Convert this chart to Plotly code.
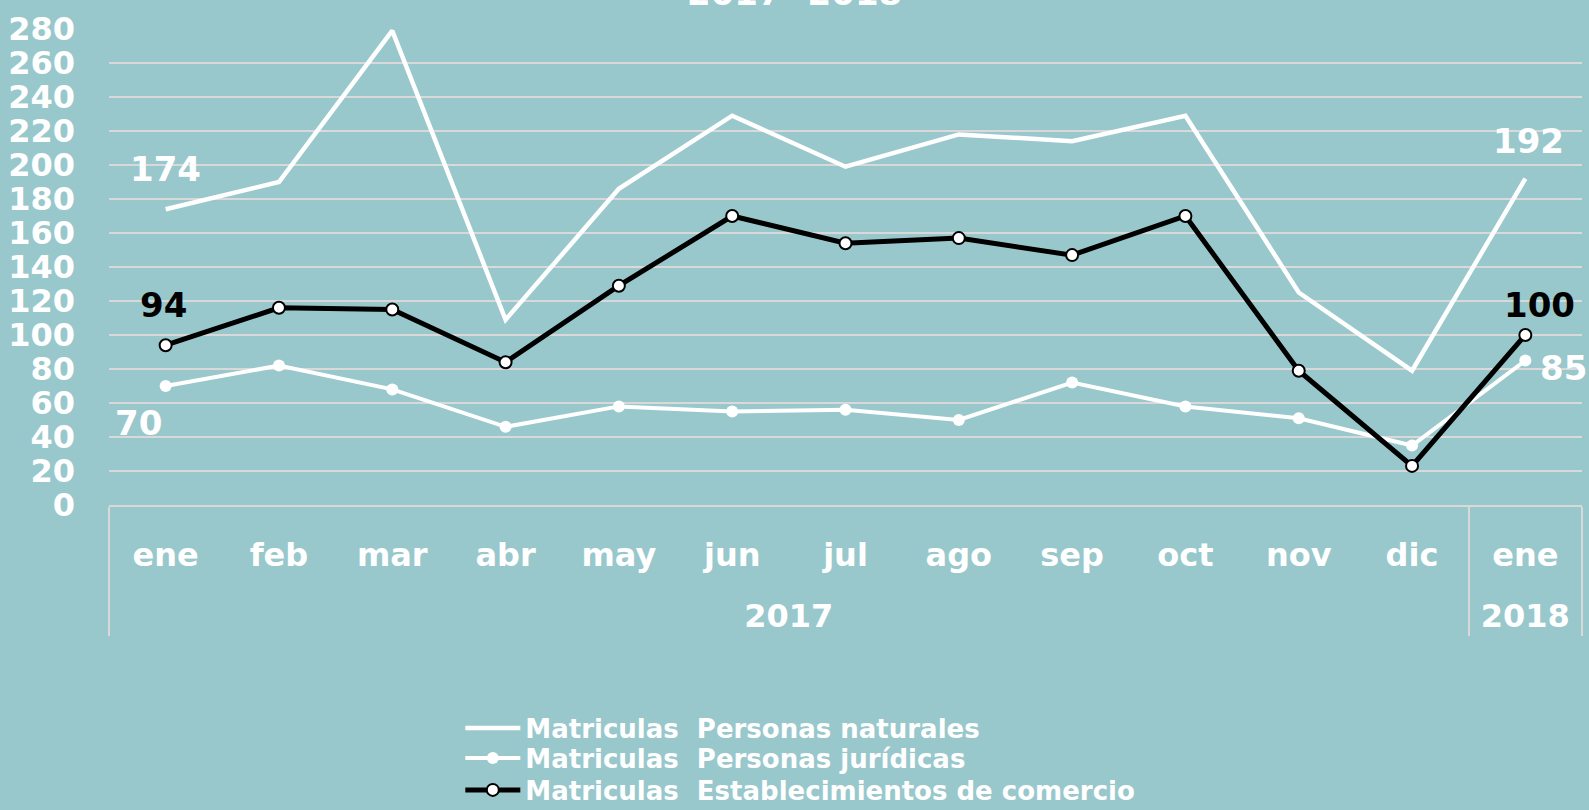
import plotly.graph_objects as go

months = ["ene", "feb", "mar", "abr", "may", "jun", "jul", "ago", "sep", "oct", "nov", "dic", "ene"]
years = ["2017"] * 12 + ["2018"]

naturales = [174, 190, 279, 109, 186, 229, 199, 218, 214, 229, 125, 79, 192]
juridicas = [70, 82, 68, 46, 58, 55, 56, 50, 72, 58, 51, 35, 85]
establecimientos = [94, 116, 115, 84, 129, 170, 154, 157, 147, 170, 79, 23, 100]

series_names = [
    "Matriculas  Personas naturales",
    "Matriculas  Personas jurídicas",
    "Matriculas  Establecimientos de comercio",
]
title_text = "2017- 2018"

BG = "#98C8CC"
GRID = "#D9D9D9"
FONT = "'DejaVu Sans', Lato, sans-serif"

# month labels get an empty second line so the year row sits lower, as in the original
x = [years, [m + "<br>&nbsp;" for m in months]]

fig = go.Figure()
fig.add_trace(go.Scatter(
    x=x, y=naturales, name=series_names[0], mode="lines", legend="legend",
    line=dict(color="white", width=4.5), cliponaxis=False,
))
fig.add_trace(go.Scatter(
    x=x, y=juridicas, name=series_names[1], mode="lines+markers", legend="legend2",
    line=dict(color="white", width=4),
    marker=dict(color="white", size=12, line=dict(width=0)), cliponaxis=False,
))
fig.add_trace(go.Scatter(
    x=x, y=establecimientos, name=series_names[2], mode="lines+markers", legend="legend3",
    line=dict(color="black", width=5),
    marker=dict(color="white", size=12, line=dict(color="black", width=2)), cliponaxis=False,
))

last = len(months) - 1
labels = [
    (0, naturales[0], "white", 0, 40),
    (0, establecimientos[0], "black", -2, 40),
    (0, juridicas[0], "white", -27, -37),
    (last, naturales[last], "white", 3, 38),
    (last, establecimientos[last], "black", 14, 30),
    (last, juridicas[last], "white", 38, -7),
]
for xi, yv, col, dx, dy in labels:
    fig.add_annotation(
        x=xi, y=yv, xref="x", yref="y", text=f"<b>{yv}</b>", showarrow=False,
        xshift=dx, yshift=dy, font=dict(family=FONT, size=34, color=col),
    )

fig.add_annotation(
    x=(794.5 - 109) / 1473, xref="paper", xanchor="center", y=1.0, yref="paper", yanchor="bottom",
    yshift=14, text=f"<b>{title_text}</b>", showarrow=False,
    font=dict(family=FONT, size=34, color="white"),
)

def legend_box(ypix):
    return dict(
        x=0.2385, y=(505 - ypix) / 476, xanchor="left", yanchor="middle",
        bgcolor="rgba(0,0,0,0)", font=dict(family=FONT, size=26, color="white", weight="bold"),
        itemwidth=55,
    )

fig.update_layout(
    width=1589, height=810,
    paper_bgcolor=BG, plot_bgcolor=BG,
    margin=dict(l=109, r=7, t=29, b=305, autoexpand=False),
    font=dict(family=FONT, color="white", size=32),
    showlegend=True,
    legend=legend_box(728),
    legend2=legend_box(758),
    legend3=legend_box(790),
)
fig.update_yaxes(
    range=[0, 280], dtick=20, showgrid=True, gridcolor=GRID, gridwidth=1.5,
    zeroline=False, showline=False, ticks="", ticklabelstandoff=33, automargin=False,
    tickfont=dict(family=FONT, size=32, color="white", weight="bold"),
)
fig.update_xaxes(
    range=[-0.5, len(months) - 0.5],
    showgrid=False, showline=True, linecolor=GRID, linewidth=1.5,
    showdividers=True, dividercolor=GRID, dividerwidth=1.5,
    ticklabelstandoff=21, automargin=False,
    tickfont=dict(family=FONT, size=32, color="white", weight="bold"),
)

fig.write_html("out.html", config={"displayModeBar": False},
               post_script="document.body.style.margin='0';")
